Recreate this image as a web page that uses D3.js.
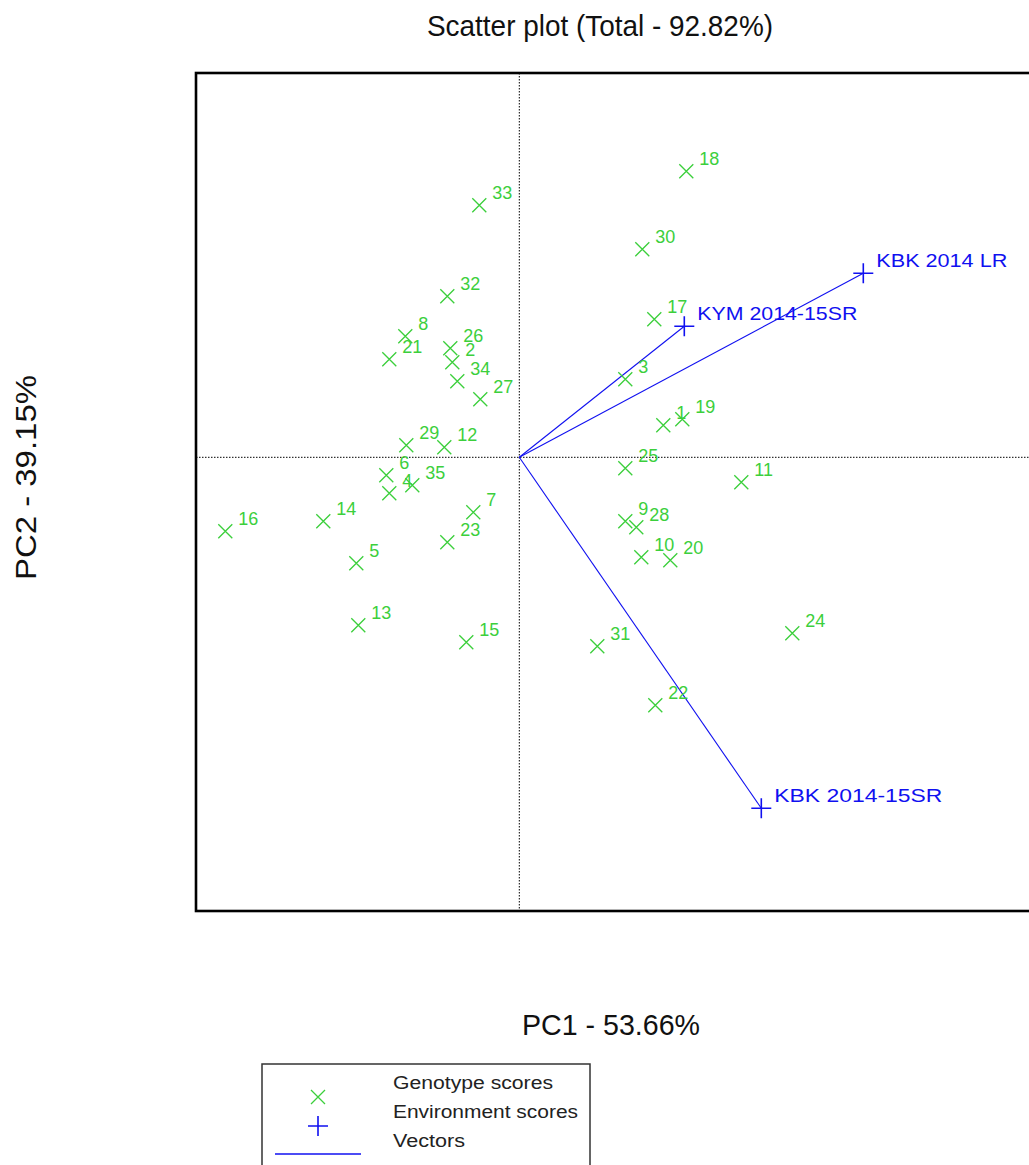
<!DOCTYPE html>
<html><head><meta charset="utf-8">
<script src="https://cdn.jsdelivr.net/npm/d3@7"></script>
<style>body{margin:0;background:#fff} svg{display:block}</style>
</head><body>
<script>
// ---------- data ----------
const genotypes = ["1","2","3","4","5","6","7","8","9","10","11","12","13","14","15","16","17","18","19","20","21","22","23","24","25","26","27","28","29","30","31","32","33","34","35"];
const pc1 = [1.44,-0.67,1.06,-1.30,-1.63,-1.33,-0.46,-1.14,1.06,1.22,2.22,-0.75,-1.61,-1.96,-0.53,-2.94,1.35,1.67,1.63,1.51,-1.30,1.36,-0.72,2.73,1.06,-0.69,-0.39,1.17,-1.13,1.23,0.78,-0.72,-0.40,-0.62,-1.07];
const pc2 = [0.32,0.95,0.78,-0.36,-1.06,-0.18,-0.55,1.21,-0.64,-1.00,-0.25,0.10,-1.68,-0.64,-1.85,-0.74,1.38,2.86,0.38,-1.03,0.98,-2.48,-0.85,-1.76,-0.11,1.09,0.58,-0.70,0.12,2.08,-1.89,1.61,2.52,0.76,-0.28];
const environments = ["KBK 2014 LR","KYM 2014-15SR","KBK 2014-15SR"];
const envPC1 = [3.44,1.65,2.42];
const envPC2 = [1.84,1.31,-3.51];
const titleText = "Scatter plot (Total - 92.82%)";
const xLabelText = "PC1 - 53.66%";
const yLabelText = "PC2 - 39.15%";
const legendLabels = ["Genotype scores","Environment scores","Vectors"];

// ---------- style ----------
const W = 1029, H = 1165;
const GREEN = "#3ccf3c", BLUE = "#1010f0";
const FONT = "'Liberation Sans', Arial, sans-serif";
const envLabelLen = [131, 160, 168];

const svg = d3.select("body").append("svg").attr("width", W).attr("height", H);

const x = d3.scaleLinear().domain([-3.233, 5.147]).range([196, 1034]);
const y = d3.scaleLinear().domain([-4.537, 3.843]).range([911, 73]);

// frame
svg.append("rect").attr("x", x(-3.233)).attr("y", y(3.843))
  .attr("width", x(5.147) - x(-3.233)).attr("height", y(-4.537) - y(3.843))
  .attr("fill", "none").attr("stroke", "#000").attr("stroke-width", 2.6);

// dotted zero lines
svg.append("line").attr("x1", x(0)).attr("x2", x(0)).attr("y1", y(3.843)).attr("y2", y(-4.537))
  .attr("stroke", "#000").attr("stroke-width", 1).attr("stroke-dasharray", "1.5,1.5");
svg.append("line").attr("x1", x(-3.233)).attr("x2", x(5.147)).attr("y1", y(0)).attr("y2", y(0))
  .attr("stroke", "#000").attr("stroke-width", 1).attr("stroke-dasharray", "1.5,1.5");

// vectors
const env = environments.map((n, i) => ({name: n, a: envPC1[i], b: envPC2[i], i}));
svg.append("g").selectAll("line").data(env).join("line")
  .attr("x1", x(0)).attr("y1", y(0))
  .attr("x2", d => x(d.a)).attr("y2", d => y(d.b))
  .attr("stroke", BLUE).attr("stroke-width", 1.1);

// genotype markers
const gen = genotypes.map((n, i) => ({name: n, a: pc1[i], b: pc2[i]}));
const s = 7;
svg.append("g").selectAll("path").data(gen).join("path")
  .attr("d", d => { const cx = x(d.a), cy = y(d.b);
    return `M${cx-s},${cy-s}L${cx+s},${cy+s}M${cx-s},${cy+s}L${cx+s},${cy-s}`; })
  .attr("stroke", GREEN).attr("stroke-width", 1.3).attr("fill", "none");
svg.append("g").selectAll("text").data(gen).join("text")
  .attr("x", d => x(d.a) + 13).attr("y", d => y(d.b) - 6)
  .attr("font-family", FONT).attr("font-size", 18)
  .attr("fill", GREEN).text(d => d.name);

// environment markers
const p = 10;
svg.append("g").selectAll("path").data(env).join("path")
  .attr("d", d => { const cx = x(d.a), cy = y(d.b);
    return `M${cx-p},${cy}L${cx+p},${cy}M${cx},${cy-p}L${cx},${cy+p}`; })
  .attr("stroke", BLUE).attr("stroke-width", 1.6).attr("fill", "none");
svg.append("g").selectAll("text").data(env).join("text")
  .attr("x", d => x(d.a) + 13).attr("y", d => y(d.b) - 6)
  .attr("font-family", FONT).attr("font-size", 19)
  .attr("textLength", d => envLabelLen[d.i]).attr("lengthAdjust", "spacingAndGlyphs")
  .attr("fill", BLUE).text(d => d.name);

// title & axis labels
svg.append("text").attr("x", 427).attr("y", 36).attr("font-family", FONT).attr("font-size", 30)
  .attr("textLength", 346).attr("lengthAdjust", "spacingAndGlyphs").attr("fill", "#111").text(titleText);
svg.append("text").attr("x", 522).attr("y", 1035).attr("font-family", FONT).attr("font-size", 30)
  .attr("textLength", 178).attr("lengthAdjust", "spacingAndGlyphs").attr("fill", "#111").text(xLabelText);
svg.append("text").attr("transform", "translate(36,580) rotate(-90)").attr("font-family", FONT).attr("font-size", 30)
  .attr("textLength", 205).attr("lengthAdjust", "spacingAndGlyphs").attr("fill", "#111").text(yLabelText);

// legend
svg.append("rect").attr("x", 262).attr("y", 1064).attr("width", 328).attr("height", 130)
  .attr("fill", "none").attr("stroke", "#333").attr("stroke-width", 1.5);
const lx = 318;
svg.append("path").attr("d", `M${lx-7},${1097-7}L${lx+7},${1097+7}M${lx-7},${1097+7}L${lx+7},${1097-7}`)
  .attr("stroke", GREEN).attr("stroke-width", 1.3);
svg.append("path").attr("d", `M${lx-10},1126L${lx+10},1126M${lx},1116L${lx},1136`)
  .attr("stroke", BLUE).attr("stroke-width", 1.6);
svg.append("line").attr("x1", 275).attr("x2", 361).attr("y1", 1154).attr("y2", 1154)
  .attr("stroke", BLUE).attr("stroke-width", 1.6);
const legendLen = [160, 185, 72];
const legendY = [1089, 1118, 1147];
svg.append("g").selectAll("text").data(legendLabels).join("text")
  .attr("x", 393).attr("y", (d, i) => legendY[i])
  .attr("font-family", FONT).attr("font-size", 18)
  .attr("textLength", (d, i) => legendLen[i]).attr("lengthAdjust", "spacingAndGlyphs")
  .attr("fill", "#222").text(d => d);
</script>
</body></html>
